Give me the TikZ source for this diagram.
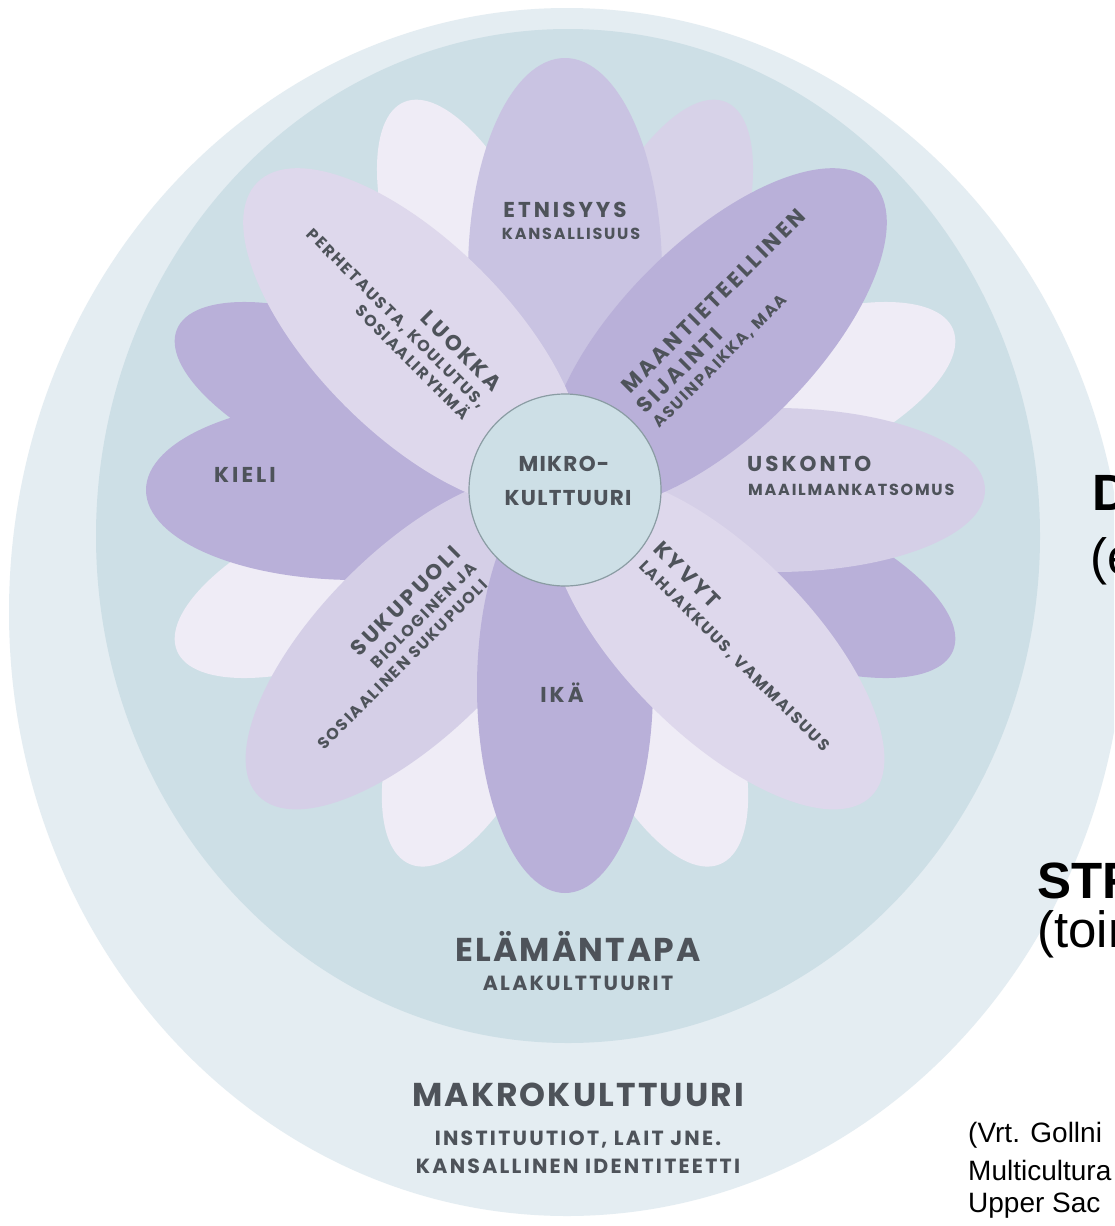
\documentclass[tikz,border=0pt]{standalone}
\usepackage{fontspec}
\setmainfont{Liberation Sans}
\newfontfamily\pop{Poppins}
\definecolor{outerc}{HTML}{E4EDF2}
\definecolor{innerc}{HTML}{CDDFE6}
\definecolor{circd}{HTML}{8A9CA3}
\definecolor{txt}{HTML}{4E535A}
\definecolor{pdark}{HTML}{B9B0D9}
\definecolor{pmid}{HTML}{C9C3E2}
\definecolor{plight}{HTML}{D5CFE7}
\definecolor{plighter}{HTML}{DED8EC}
\definecolor{pvlight}{HTML}{EFECF6}
\definecolor{pbackmid}{HTML}{D7D2E8}
\tikzset{
  lbl/.style={text=txt, inner sep=0pt},
  bigt/.style={lbl, font=\pop\bfseries\fontsize{21.5}{24}\selectfont\addfontfeatures{LetterSpace=14}},
  midt/.style={lbl, font=\pop\bfseries\fontsize{21.5}{24}\selectfont\addfontfeatures{LetterSpace=6}},
  smallt/.style={lbl, font=\pop\bfseries\fontsize{16}{18}\selectfont\addfontfeatures{LetterSpace=11}},
  hugt/.style={lbl, font=\pop\bfseries\fontsize{33}{36}\selectfont\addfontfeatures{LetterSpace=6.5}},
  subt/.style={lbl, font=\pop\bfseries\fontsize{20.5}{23}\selectfont\addfontfeatures{LetterSpace=11}},
  sidebold/.style={inner sep=0pt, anchor=base west, font=\bfseries\fontsize{51}{56}\selectfont},
  sidereg/.style={inner sep=0pt, anchor=base west, font=\fontsize{51}{56}\selectfont},
  ref/.style={inner sep=0pt, anchor=base west, font=\fontsize{28}{32}\selectfont},
}
\newcommand\petal[5]{\fill[#5, shift={(565,-490)}, rotate=#1] (#2,0) ellipse [x radius=#3, y radius=#4];}
\begin{document}
\begin{tikzpicture}[x=1pt,y=1pt]
\useasboundingbox (0,0) rectangle (1114,-1226);
\clip (0,0) rectangle (1114,-1226);
\fill[white] (0,0) rectangle (1114,-1226);
% rings
\fill[outerc] (567,-612) ellipse [x radius=558, y radius=604];
\fill[innerc] (568,-536) ellipse [x radius=472, y radius=507];
% back petals
\petal{112.5}{232}{188}{74}{pvlight}
\petal{67.5}{232}{188}{74}{pbackmid}
\petal{22.5}{232}{188}{74}{pvlight}
\petal{-22.5}{232}{188}{74}{pdark}
\petal{-67.5}{225}{180}{74}{pvlight}
\petal{-112.5}{225}{180}{74}{pvlight}
\petal{-157.5}{232}{188}{74}{pvlight}
\petal{157.5}{232}{188}{74}{pdark}
% front petals
\petal{90}{217}{215}{97}{pmid}
\petal{0}{210}{210}{82}{plight}
\petal{180}{209}{210}{90}{pdark}
\petal{-135}{215}{218}{92}{plight}
\petal{-90}{197}{206}{88}{pdark}
\petal{-45}{215}{218}{92}{plighter}
\petal{45}{215}{220}{96}{pdark}
\petal{135}{215}{220}{96}{plighter}
% centre
\node[circle, draw=circd, line width=1.2pt, fill=innerc, minimum size=192pt, inner sep=0pt] (mikro) at (565,-490) {};
\node[midt] (mik1) at (564,-464) {MIKRO-};
\node[midt] (mik2) at (568,-498) {KULTTUURI};
% horizontal labels
\node[bigt] (etn) at (565,-210) {ETNISYYS};
\node[smallt] (kans) at (571,-234) {KANSALLISUUS};
\node[bigt] (kieli) at (245,-475) {KIELI};
\node[bigt, anchor=west] (usk) at (747,-464) {USKONTO};
\node[smallt, anchor=west] (maail) at (748,-490) {MAAILMANKATSOMUS};
\node[bigt] (ika) at (562,-693) {IKÄ};
% rotated blocks
\begin{scope}[shift={(493,-393)}, rotate=-45]
\node[bigt, anchor=base east, transform shape] (luokka) at (0,0) {LUOKKA};
\node[smallt, anchor=base east, transform shape] (perhe) at (2,-21) {PERHETAUSTA, KOULUTUS,};
\node[smallt, anchor=base east, transform shape] (sosr) at (-2,-41) {SOSIAALIRYHMÄ};
\end{scope}
\begin{scope}[shift={(630,-395)}, rotate=45]
\node[bigt, anchor=base west, transform shape] (maant) at (0,0) {MAANTIETEELLINEN};
\node[bigt, anchor=base west, transform shape] (sij) at (-3,-25) {SIJAINTI};
\node[smallt, anchor=base west, transform shape] (asuin) at (-3,-45) {ASUINPAIKKA, MAA};
\end{scope}
\begin{scope}[shift={(652,-550)}, rotate=-45]
\node[bigt, anchor=base west, transform shape] (kyvyt) at (0,0) {KYVYT};
\node[smallt, anchor=base west, transform shape] (lahj) at (2,-22) {LAHJAKKUUS, VAMMAISUUS};
\end{scope}
\begin{scope}[shift={(462,-555)}, rotate=45]
\node[bigt, anchor=base east, transform shape] (suku) at (0,0) {SUKUPUOLI};
\node[smallt, anchor=base east, transform shape] (bio) at (1,-21) {BIOLOGINEN JA};
\node[smallt, anchor=base east, transform shape] (sosp) at (-3,-41) {SOSIAALINEN SUKUPUOLI};
\end{scope}
% lower labels
\node[hugt] (ela) at (578,-946) {ELÄMÄNTAPA};
\node[subt] (ala) at (578,-983) {ALAKULTTUURIT};
\node[hugt] (makro) at (578,-1095) {MAKROKULTTUURI};
\node[subt] (inst) at (578,-1140) {INSTITUUTIOT, LAIT JNE.};
\node[subt] (kid) at (578,-1166) {KANSALLINEN IDENTITEETTI};
% right side text
\node[sidebold] (di) at (1092,-510) {DI};
\node[sidereg] (e) at (1090,-574) {(e};
\node[sidebold] (str) at (1037,-898) {STR};
\node[sidereg] (toi) at (1037,-947) {(toin};
\node[ref] (vrt) at (968,-1142) {(Vrt. Gollni};
\node[ref] (multi) at (968,-1180) {Multicultura};
\node[ref] (upper) at (968,-1212) {Upper Sac};
\end{tikzpicture}
\end{document}
